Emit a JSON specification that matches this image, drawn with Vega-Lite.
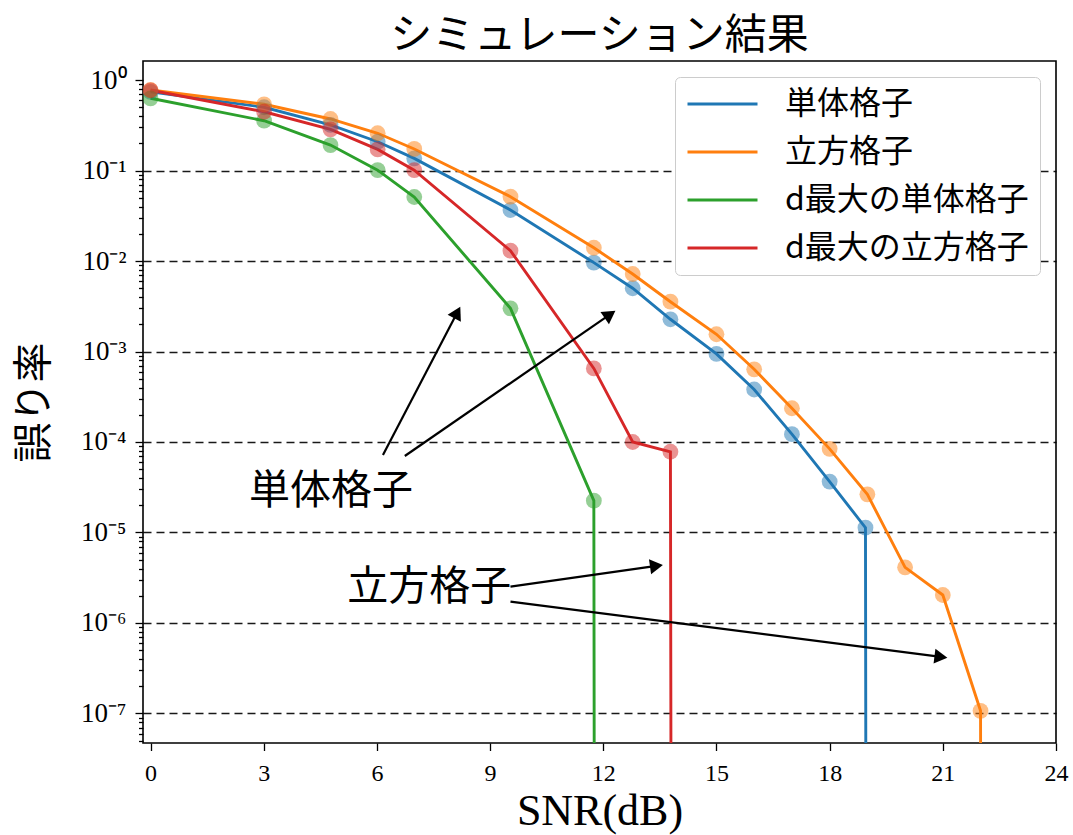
{
  "$schema": "https://vega.github.io/schema/vega-lite/v6.json",
  "width": 913,
  "height": 682,
  "autosize": {"type": "none"},
  "padding": {"left": 143, "top": 61, "right": 17, "bottom": 92},
  "background": "white",
  "title": {"text": "シミュレーション結果", "font": "Noto Sans CJK JP", "fontSize": 42, "fontWeight": "normal", "color": "black", "anchor": "middle", "frame": "group", "baseline": "bottom", "offset": 2, "dy": 41},
  "config": {
    "view": {"stroke": "black", "strokeWidth": 1.6},
    "axis": {"domain": false, "tickColor": "black", "tickWidth": 1.3, "labelColor": "black", "labelFont": "Liberation Serif", "labelFontSize": 24, "titleColor": "black", "titleFontWeight": "normal"},
    "legend": {"orient": "top-right", "offset": 16, "padding": 11, "fillColor": "white", "strokeColor": "#cccccc", "cornerRadius": 5, "symbolType": "stroke", "symbolSize": 4900, "symbolStrokeWidth": 3, "clipHeight": 32, "rowPadding": 16, "labelOffset": 26, "symbolOffset": 0, "labelFont": "Noto Sans CJK JP", "labelFontSize": 32, "labelColor": "black", "labelLimit": 400}
  },
  "datasets": {
    "curves": [
      {"series": "単体格子", "snr": 0, "err": 0.74},
      {"series": "単体格子", "snr": 3.01, "err": 0.5},
      {"series": "単体格子", "snr": 4.77, "err": 0.32},
      {"series": "単体格子", "snr": 6.02, "err": 0.208},
      {"series": "単体格子", "snr": 6.99, "err": 0.136},
      {"series": "単体格子", "snr": 9.54, "err": 0.0366},
      {"series": "単体格子", "snr": 11.75, "err": 0.0096},
      {"series": "単体格子", "snr": 12.78, "err": 0.005},
      {"series": "単体格子", "snr": 13.78, "err": 0.00227},
      {"series": "単体格子", "snr": 15, "err": 0.00094},
      {"series": "単体格子", "snr": 16, "err": 0.00038},
      {"series": "単体格子", "snr": 17, "err": 0.000122},
      {"series": "単体格子", "snr": 18, "err": 0.0000365},
      {"series": "単体格子", "snr": 18.95, "err": 0.0000113},
      {"series": "単体格子", "snr": 20, "err": 1e-300},
      {"series": "立方格子", "snr": 0, "err": 0.776},
      {"series": "立方格子", "snr": 3.01, "err": 0.539},
      {"series": "立方格子", "snr": 4.77, "err": 0.371},
      {"series": "立方格子", "snr": 6.02, "err": 0.258},
      {"series": "立方格子", "snr": 6.99, "err": 0.173},
      {"series": "立方格子", "snr": 9.54, "err": 0.0514},
      {"series": "立方格子", "snr": 11.75, "err": 0.014},
      {"series": "立方格子", "snr": 12.78, "err": 0.00718},
      {"series": "立方格子", "snr": 13.78, "err": 0.00355},
      {"series": "立方格子", "snr": 15, "err": 0.00155},
      {"series": "立方格子", "snr": 16, "err": 0.000636},
      {"series": "立方格子", "snr": 17, "err": 0.000236},
      {"series": "立方格子", "snr": 18, "err": 0.000084},
      {"series": "立方格子", "snr": 19, "err": 0.0000264},
      {"series": "立方格子", "snr": 20, "err": 0.00000412},
      {"series": "立方格子", "snr": 21, "err": 0.00000204},
      {"series": "立方格子", "snr": 22, "err": 0.000000107},
      {"series": "立方格子", "snr": 23, "err": 1e-300},
      {"series": "d最大の単体格子", "snr": 0, "err": 0.628},
      {"series": "d最大の単体格子", "snr": 3.01, "err": 0.355},
      {"series": "d最大の単体格子", "snr": 4.77, "err": 0.191},
      {"series": "d最大の単体格子", "snr": 6.02, "err": 0.101},
      {"series": "d最大の単体格子", "snr": 6.99, "err": 0.051},
      {"series": "d最大の単体格子", "snr": 9.54, "err": 0.003},
      {"series": "d最大の単体格子", "snr": 11.75, "err": 0.0000225},
      {"series": "d最大の単体格子", "snr": 12.78, "err": 1e-300},
      {"series": "d最大の立方格子", "snr": 0, "err": 0.77},
      {"series": "d最大の立方格子", "snr": 3.01, "err": 0.446},
      {"series": "d最大の立方格子", "snr": 4.77, "err": 0.285},
      {"series": "d最大の立方格子", "snr": 6.02, "err": 0.171},
      {"series": "d最大の立方格子", "snr": 6.99, "err": 0.101},
      {"series": "d最大の立方格子", "snr": 9.54, "err": 0.013},
      {"series": "d最大の立方格子", "snr": 11.75, "err": 0.00065},
      {"series": "d最大の立方格子", "snr": 12.78, "err": 0.0001},
      {"series": "d最大の立方格子", "snr": 13.78, "err": 0.000078},
      {"series": "d最大の立方格子", "snr": 15, "err": 1e-300}
    ],
    "arrows": [
      {"id": 1, "snr": 6.16, "err": 0.0000718, "snr2": 8.13, "err2": 0.0027},
      {"id": 2, "snr": 6.74, "err": 0.00007, "snr2": 12.18, "err2": 0.00257},
      {"id": 3, "snr": 9.54, "err": 0.00000252, "snr2": 13.41, "err2": 0.00000428},
      {"id": 4, "snr": 9.54, "err": 0.00000172, "snr2": 20.95, "err2": 0.000000422}
    ],
    "notes": [
      {"label": "単体格子", "snr": 4.78, "err": 0.000028},
      {"label": "立方格子", "snr": 7.39, "err": 0.00000244}
    ]
  },
  "encoding": {
    "x": {"field": "snr", "type": "quantitative",
      "scale": {"domain": [-0.2, 24], "nice": false, "zero": false},
      "axis": {"title": "SNR(dB)", "values": [0, 3, 6, 9, 12, 15, 18, 21, 24], "grid": false, "tickSize": 7.5, "labelPadding": 11, "labelFlush": false, "labelOverlap": false, "titleFont": "Liberation Serif", "titleFontSize": 44, "titlePadding": 4}},
    "y": {"field": "err", "type": "quantitative",
      "scale": {"type": "log", "domain": [4.72e-8, 1.622], "nice": false},
      "axis": {"title": "誤り率", "titleFont": "Noto Sans CJK JP", "titleFontSize": 40, "titlePadding": 26,
        "values": [5e-8, 6e-8, 7e-8, 8e-8, 9e-8,
          1e-7, 2e-7, 3e-7, 4e-7, 5e-7, 6e-7, 7e-7, 8e-7, 9e-7,
          1e-6, 2e-6, 3e-6, 4e-6, 5e-6, 6e-6, 7e-6, 8e-6, 9e-6,
          1e-5, 2e-5, 3e-5, 4e-5, 5e-5, 6e-5, 7e-5, 8e-5, 9e-5,
          1e-4, 2e-4, 3e-4, 4e-4, 5e-4, 6e-4, 7e-4, 8e-4, 9e-4,
          0.001, 0.002, 0.003, 0.004, 0.005, 0.006, 0.007, 0.008, 0.009,
          0.01, 0.02, 0.03, 0.04, 0.05, 0.06, 0.07, 0.08, 0.09,
          0.1, 0.2, 0.3, 0.4, 0.5, 0.6, 0.7, 0.8, 0.9, 1],
        "grid": true, "gridColor": "black", "gridDash": [8, 5], "gridWidth": 1.6,
        "gridOpacity": {"condition": {"test": "abs(log(datum.value)/LN10 - round(log(datum.value)/LN10)) < 0.01 && datum.value < 0.5", "value": 0.9}, "value": 0},
        "tickSize": {"condition": {"test": "abs(log(datum.value)/LN10 - round(log(datum.value)/LN10)) < 0.01", "value": 8}, "value": 4.5},
        "labelExpr": "abs(log(datum.value)/LN10 - round(log(datum.value)/LN10)) < 0.01 ? (round(log(datum.value)/LN10) == 0 ? '10⁰' : '10⁻' + ['⁰','¹','²','³','⁴','⁵','⁶','⁷','⁸','⁹'][-round(log(datum.value)/LN10)]) : ''",
        "labelOverlap": false, "labelPadding": 9, "labelBaseline": "middle", "labelFontSize": 27}}
  },
  "layer": [
    {
      "data": {"name": "curves"},
      "mark": {"type": "line", "strokeWidth": 2.9, "clip": true},
      "encoding": {
        "color": {"field": "series", "type": "nominal",
          "scale": {"domain": ["単体格子", "立方格子", "d最大の単体格子", "d最大の立方格子"], "range": ["#1f77b4", "#ff7f0e", "#2ca02c", "#d62728"]},
          "legend": {"title": null}}
      }
    },
    {
      "data": {"name": "curves"},
      "mark": {"type": "point", "filled": true, "opacity": 0.5, "size": 250, "clip": true},
      "encoding": {
        "color": {"field": "series", "type": "nominal", "legend": null}
      }
    },
    {
      "data": {"name": "arrows"},
      "mark": {"type": "rule", "color": "black", "strokeWidth": 2.2},
      "encoding": {
        "x2": {"field": "snr2"},
        "y2": {"field": "err2"}
      }
    },
    {
      "data": {"name": "arrows"},
      "transform": [{"filter": "datum.id == 1"}],
      "mark": {"type": "point", "shape": "triangle-up", "filled": true, "color": "black", "opacity": 1, "size": 225, "angle": 27.8},
      "encoding": {"x": {"field": "snr2", "type": "quantitative"}, "y": {"field": "err2", "type": "quantitative"}}
    },
    {
      "data": {"name": "arrows"},
      "transform": [{"filter": "datum.id == 2"}],
      "mark": {"type": "point", "shape": "triangle-up", "filled": true, "color": "black", "opacity": 1, "size": 225, "angle": 55.5},
      "encoding": {"x": {"field": "snr2", "type": "quantitative"}, "y": {"field": "err2", "type": "quantitative"}}
    },
    {
      "data": {"name": "arrows"},
      "transform": [{"filter": "datum.id == 3"}],
      "mark": {"type": "point", "shape": "triangle-up", "filled": true, "color": "black", "opacity": 1, "size": 225, "angle": 81.8},
      "encoding": {"x": {"field": "snr2", "type": "quantitative"}, "y": {"field": "err2", "type": "quantitative"}}
    },
    {
      "data": {"name": "arrows"},
      "transform": [{"filter": "datum.id == 4"}],
      "mark": {"type": "point", "shape": "triangle-up", "filled": true, "color": "black", "opacity": 1, "size": 225, "angle": 97.3},
      "encoding": {"x": {"field": "snr2", "type": "quantitative"}, "y": {"field": "err2", "type": "quantitative"}}
    },
    {
      "data": {"name": "notes"},
      "mark": {"type": "text", "font": "Noto Sans CJK JP", "fontSize": 41, "color": "black", "align": "center", "baseline": "middle"},
      "encoding": {"text": {"field": "label"}}
    }
  ]
}
